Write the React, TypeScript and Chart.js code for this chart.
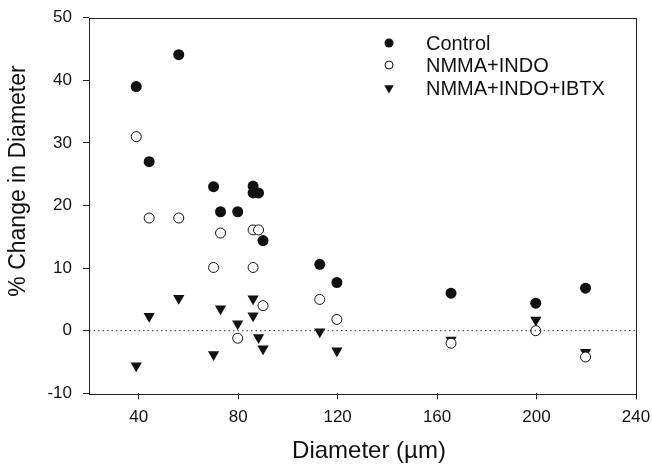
import React, { useEffect, useRef } from "react";
import { Chart, registerables } from "chart.js";
Chart.register(...registerables);

const diameters = [39.0, 44.2, 56.1, 70.1, 72.9, 79.8, 86.0, 86.0, 88.2, 90.0, 112.8, 119.7, 165.6, 199.7, 219.7];
const control = [39.0, 27.0, 44.1, 23.0, 19.0, 19.0, 23.1, 22.0, 22.0, 14.4, 10.6, 7.7, 6.0, 4.4, 6.8];
const nmmaIndo = [31.0, 18.0, 18.0, 10.1, 15.6, -1.2, 16.1, 10.1, 16.1, 4.0, 5.0, 1.8, -2.0, 0.0, -4.2];
const nmmaIndoIbtx = [-5.6, 2.3, 5.2, -3.8, 3.5, 1.1, 5.1, 2.4, -1.1, -2.9, -0.15, -3.2, -1.5, 1.7, -3.45];
const zeroLineX = [20, 240];
const xTicks = [40, 80, 120, 160, 200, 240];
const yTicks = [-10, 0, 10, 20, 30, 40, 50];
const seriesNames = ["Control", "NMMA+INDO", "NMMA+INDO+IBTX"];
const xTitle = "Diameter (µm)";
const yTitle = "% Change in Diameter";

const FONT = "'Liberation Sans', Arial, Helvetica, sans-serif";
const INK = "#111";

const toPoints = (ys: number[]) => ys.map((y, i) => ({ x: diameters[i], y }));

export default function App() {
  const ref = useRef<HTMLCanvasElement | null>(null);
  useEffect(() => {
    if (!ref.current) return;
    const framePlugin = {
      id: "frame",
      beforeDatasetsDraw(chart: any) {
        const { ctx, chartArea: a } = chart;
        ctx.save();
        ctx.strokeStyle = "#222";
        ctx.lineWidth = 1;
        ctx.strokeRect(Math.round(a.left) + 0.5, Math.round(a.top) + 0.5, Math.round(a.right - a.left), Math.round(a.bottom - a.top));
        ctx.restore();
      },
      afterDraw(chart: any) {
        const { ctx } = chart;
        ctx.save();
        ctx.fillStyle = INK;
        ctx.textAlign = "center";
        ctx.textBaseline = "middle";
        ctx.font = `24px ${FONT}`;
        ctx.fillText(xTitle, 369, 451);
        ctx.translate(19, 181);
        ctx.rotate(-Math.PI / 2);
        ctx.font = `23px ${FONT}`;
        ctx.fillText(yTitle, 0, 0);
        ctx.restore();
        // legend
        ctx.save();
        const rows = [43, 65, 88];
        const mx = 389;
        ctx.font = `20px ${FONT}`;
        ctx.textAlign = "left";
        ctx.textBaseline = "middle";
        ctx.fillStyle = INK;
        seriesNames.forEach((name, i) => {
          const y = rows[i];
          ctx.beginPath();
          ctx.lineWidth = 1;
          ctx.strokeStyle = INK;
          if (i === 0) {
            ctx.arc(mx, y, 4.5, 0, Math.PI * 2);
            ctx.fillStyle = INK;
            ctx.fill();
          } else if (i === 1) {
            ctx.arc(mx, y, 4, 0, Math.PI * 2);
            ctx.fillStyle = "#fff";
            ctx.fill();
            ctx.stroke();
          } else {
            const r = 5.5;
            ctx.moveTo(mx - r * 0.866, y - r * 0.5);
            ctx.lineTo(mx + r * 0.866, y - r * 0.5);
            ctx.lineTo(mx, y + r);
            ctx.closePath();
            ctx.fillStyle = INK;
            ctx.fill();
          }
          ctx.fillStyle = INK;
          ctx.fillText(name, 426, y + 1);
        });
        ctx.restore();
      },
    };

    const chart = new Chart(ref.current, {
      type: "scatter",
      data: {
        datasets: [
          {
            type: "line",
            label: "zero",
            data: zeroLineX.map((x) => ({ x, y: 0 })),
            borderColor: "#333",
            borderWidth: 1,
            borderDash: [1.5, 3],
            pointRadius: 0,
            fill: false,
          } as any,
          {
            label: seriesNames[0],
            data: toPoints(control),
            pointStyle: "circle",
            pointRadius: 5.5,
            backgroundColor: INK,
            borderColor: INK,
            borderWidth: 0,
          },
          {
            label: seriesNames[1],
            data: toPoints(nmmaIndo),
            pointStyle: "circle",
            pointRadius: 5,
            backgroundColor: "#fff",
            borderColor: INK,
            borderWidth: 1,
          },
          {
            label: seriesNames[2],
            data: toPoints(nmmaIndoIbtx),
            pointStyle: "triangle",
            rotation: 180,
            pointRadius: 6.5,
            backgroundColor: INK,
            borderColor: INK,
            borderWidth: 0,
          },
        ],
      },
      options: {
        responsive: false,
        animation: false,
        events: [],
        layout: { padding: { top: 17.7, right: 16, left: 0, bottom: 0 } },
        plugins: { legend: { display: false }, tooltip: { enabled: false }, title: { display: false } },
        scales: {
          x: {
            type: "linear",
            min: 20,
            max: 240,
            afterBuildTicks: (s: any) => {
              s.ticks = xTicks.map((v) => ({ value: v }));
            },
            afterFit: (s: any) => {
              s.height = 471 - 393.3;
              s.paddingLeft = 0;
              s.paddingRight = 0;
            },
            grid: { display: true, drawOnChartArea: false, drawTicks: true, tickLength: 6, color: "#222" },
            border: { display: false },
            ticks: { color: INK, font: { family: FONT, size: 17 }, padding: 8, maxRotation: 0, autoSkip: false },
          },
          y: {
            type: "linear",
            min: -10,
            max: 50,
            afterBuildTicks: (s: any) => {
              s.ticks = yTicks.map((v) => ({ value: v }));
            },
            afterFit: (s: any) => {
              s.width = 89;
              s.paddingTop = 0;
              s.paddingBottom = 0;
            },
            grid: { display: true, drawOnChartArea: false, drawTicks: true, tickLength: 6, color: "#222" },
            border: { display: false },
            ticks: { color: INK, font: { family: FONT, size: 17 }, padding: 11, autoSkip: false },
          },
        },
      },
      plugins: [framePlugin],
    } as any);
    return () => chart.destroy();
  }, []);
  return (
    <div style={{ position: "absolute", left: 0, top: 0, width: 652, height: 471, background: "#fff" }}>
      <canvas ref={ref} width={652} height={471} style={{ display: "block", width: 652, height: 471 }} />
    </div>
  );
}
